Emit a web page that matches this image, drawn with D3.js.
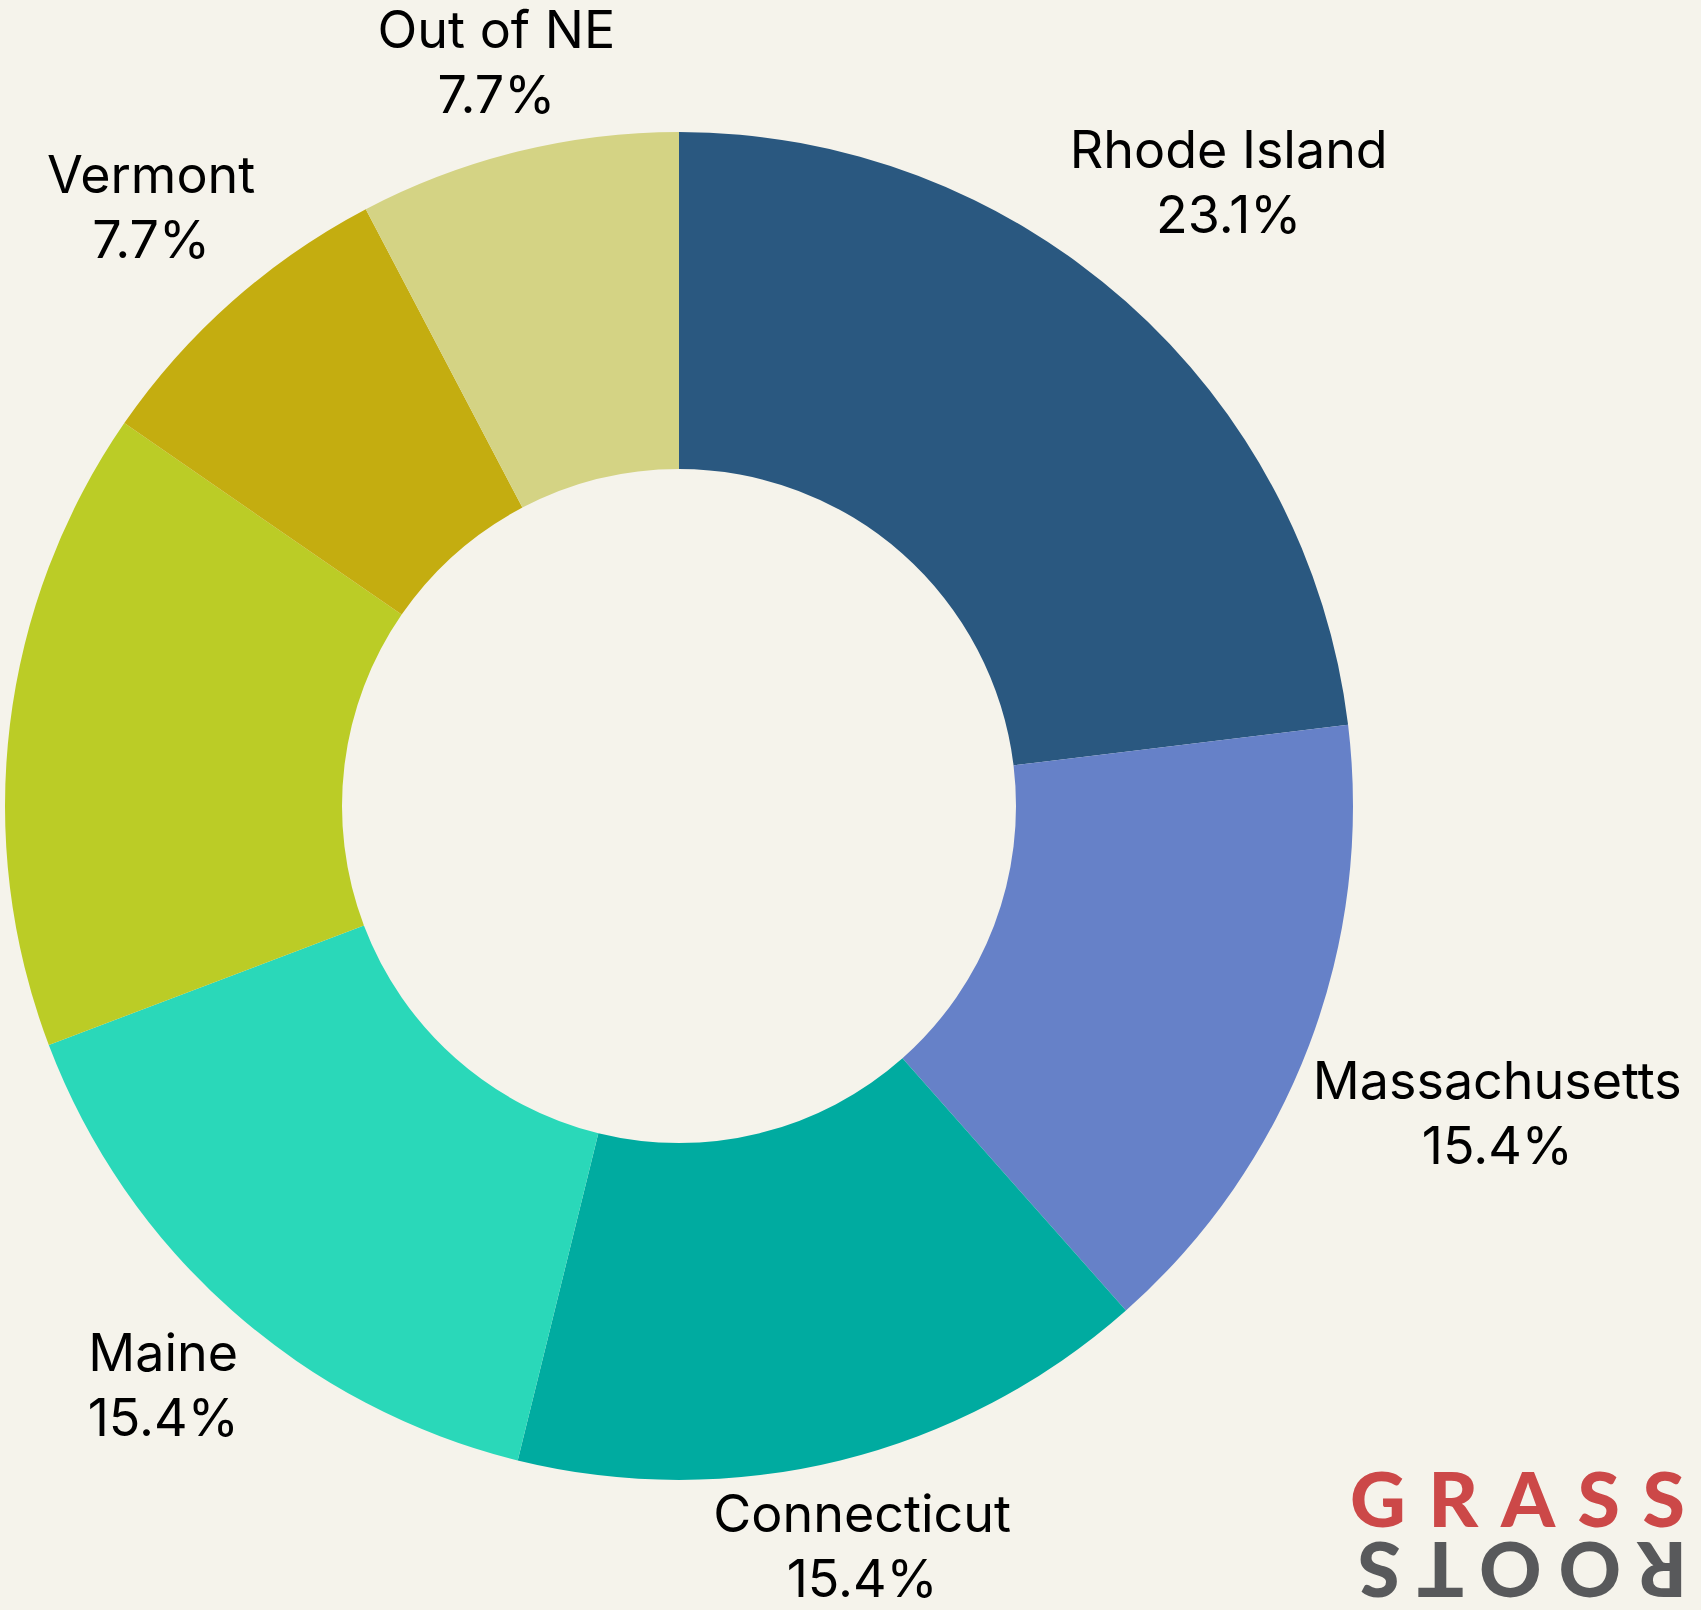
<!DOCTYPE html>
<html>
<head>
<meta charset="utf-8">
<script src="https://cdn.jsdelivr.net/npm/d3@7"></script>
<style>
  html, body { margin: 0; padding: 0; background: #f5f3eb; }
  svg { display: block; }
</style>
</head>
<body>
<svg id="chart" width="1701" height="1610"></svg>
<script>
// ---- data ----
const categories = ["Rhode Island", "Massachusetts", "Connecticut", "Maine", "New Hampshire", "Vermont", "Out of NE"];
const counts     = [3, 2, 2, 2, 2, 1, 1];
const shares     = ["23.1%", "15.4%", "15.4%", "15.4%", "15.4%", "7.7%", "7.7%"];
const showLabel  = [true, true, true, true, false, true, true];
const colors     = ["#2a5880", "#6681c8", "#00aba0", "#2ad8b9", "#bbcc26", "#c4ad10", "#d4d384"];

// ---- layout ----
const W = 1701, H = 1610;
const cx = 679, cy = 806;
const outerR = 674, innerR = 337;
const labelGap = 6;
const labelShiftY = -3;
const fontSize = 52, lineH = 65;

const svg = d3.select("#chart");
svg.append("rect").attr("width", W).attr("height", H).attr("fill", "#f5f3eb");

const data = categories.map((c, i) => ({ name: c, value: counts[i], share: shares[i], color: colors[i], show: showLabel[i] }));

const pie = d3.pie().value(d => d.value).sort(null);
const arc = d3.arc().innerRadius(innerR).outerRadius(outerR);
const arcs = pie(data);

const g = svg.append("g").attr("transform", `translate(${cx},${cy})`);
g.selectAll("path.slice").data(arcs).join("path")
  .attr("class", "slice")
  .attr("d", arc)
  .attr("fill", d => d.data.color);

// labels: box pushed out along mid-angle until its nearest point clears the ring
const labels = g.selectAll("g.lbl").data(arcs.filter(d => d.data.show)).join("g").attr("class", "lbl");
labels.each(function(d) {
  const sel = d3.select(this);
  const t = sel.append("text")
    .attr("text-anchor", "middle")
    .attr("font-family", "Inter, 'Public Sans', 'Noto Sans', sans-serif")
    .attr("font-size", fontSize)
    .attr("fill", "#000");
  t.append("tspan").attr("x", 0).attr("y", 0).text(d.data.name);
  t.append("tspan").attr("x", 0).attr("y", lineH).text(d.data.share);
  const bb = t.node().getBBox();
  const bcx = bb.x + bb.width / 2, bcy = bb.y + bb.height / 2;
  const hw = bb.width / 2, hh = bb.height / 2;
  const a = (d.startAngle + d.endAngle) / 2;
  const ux = Math.sin(a), uy = -Math.cos(a);
  const nearest = (r) => {
    const px = ux * r, py = uy * r;
    const nx = Math.max(px - hw, Math.min(0, px + hw));
    const ny = Math.max(py - hh, Math.min(0, py + hh));
    return Math.hypot(nx, ny);
  };
  let lo = 0, hi = 3000;
  for (let k = 0; k < 60; k++) {
    const mid = (lo + hi) / 2;
    if (nearest(mid) < outerR + labelGap) lo = mid; else hi = mid;
  }
  const px = ux * hi, py = uy * hi;
  sel.attr("transform", `translate(${px - bcx},${py - bcy + labelShiftY})`);
});

// logo
const logo = svg.append("g");
logo.append("text")
  .attr("x", 1350).attr("y", 1527)
  .attr("font-family", "Lato, 'Open Sans', sans-serif")
  .attr("font-weight", 900)
  .attr("font-size", 77)
  .attr("fill", "#cc4848")
  .attr("textLength", 335)
  .attr("lengthAdjust", "spacing")
  .text("GRASS");
logo.append("text")
  .attr("x", 1358).attr("y", 1597)
  .attr("font-family", "Lato, 'Open Sans', sans-serif")
  .attr("font-weight", 900)
  .attr("font-size", 77)
  .attr("fill", "#58595b")
  .attr("textLength", 329)
  .attr("lengthAdjust", "spacing")
  .attr("transform", "rotate(180 1522.5 1569.5)")
  .text("ROOTS");
</script>
</body>
</html>
